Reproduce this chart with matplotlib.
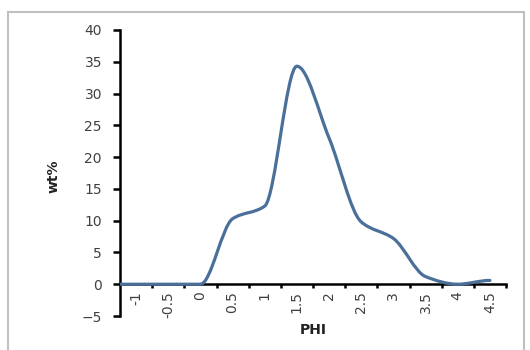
import matplotlib
matplotlib.use("Agg")
import matplotlib.pyplot as plt
from matplotlib.path import Path
from matplotlib.patches import PathPatch, Rectangle
import numpy as np

# grain size distribution
phi = [-1.25, -1, -0.5, 0, 0.5, 1, 1.5, 2, 2.5, 3, 3.5, 4, 4.5]
wt = [0, 0, 0, 0, 10.3, 12.3, 34.3, 23.0, 9.8, 7.2, 1.2, 0, 0.6]
tick_labels = ["-1", "-0.5", "0", "0.5", "1", "1.5", "2", "2.5", "3", "3.5", "4", "4.5"]
label_pos = [-1, -0.5, 0, 0.5, 1, 1.5, 2, 2.5, 3, 3.5, 4, 4.5]
yticks = [-5, 0, 5, 10, 15, 20, 25, 30, 35, 40]

def smooth_path(x, y):
    # smoothed line as cubic beziers, monotone (pchip-like) tangents so no dips
    x = np.asarray(x, float); y = np.asarray(y, float)
    h = np.diff(x); d = np.diff(y) / h
    m = np.zeros_like(y)
    for i in range(1, len(y) - 1):
        if d[i - 1] * d[i] > 0:
            w1 = 2 * h[i] + h[i - 1]; w2 = h[i] + 2 * h[i - 1]
            m[i] = (w1 + w2) / (w1 / d[i - 1] + w2 / d[i])
    verts = [(x[0], y[0])]
    codes = [Path.MOVETO]
    for i in range(len(x) - 1):
        verts += [(x[i] + h[i] / 3, y[i] + m[i] * h[i] / 3),
                  (x[i + 1] - h[i] / 3, y[i + 1] - m[i + 1] * h[i] / 3),
                  (x[i + 1], y[i + 1])]
        codes += [Path.CURVE4] * 3
    return Path(verts, codes)

fig = plt.figure(figsize=(5.3, 3.5), dpi=100)
fig.patches.append(Rectangle((8 / 530, -0.01), 516 / 530, 1 - 12 / 350 + 0.01,
                             transform=fig.transFigure, fill=False,
                             ec="#c0c0c0", lw=1.5))
ax = fig.add_axes([120 / 530, 34 / 350, 386 / 530, 286 / 350])

ax.add_patch(PathPatch(smooth_path(phi, wt), fill=False, ec="#4a7099", lw=2.3,
                       capstyle="round", joinstyle="round", zorder=3))

ax.set_xlim(-1.25, 4.75)
ax.set_ylim(-5, 40)
for s in ["top", "right"]:
    ax.spines[s].set_visible(False)
ax.spines["bottom"].set_position(("data", 0))
ax.spines["left"].set_linewidth(1.8)
ax.spines["bottom"].set_linewidth(1.8)

ax.set_yticks(yticks)
ax.tick_params(axis="y", direction="out", length=5, width=1.8, pad=8,
               labelsize=10, labelcolor="#404040")

ax.set_xticks(np.arange(-0.75, 4.8, 0.5))
ax.set_xticklabels([])
ax.set_xticks(label_pos, minor=True)
ax.set_xticklabels(tick_labels, minor=True, rotation=90)
ax.tick_params(axis="x", which="major", direction="out", length=3, width=1.8)
ax.tick_params(axis="x", which="minor", length=0, pad=5, labelsize=10,
               labelcolor="#404040")

ax.set_xlabel("PHI", fontsize=10, fontweight="bold", color="#222222")
ax.xaxis.set_label_coords(0.5, -0.025)
ax.set_ylabel("wt%", fontsize=10, fontweight="bold", color="#222222")
ax.yaxis.set_label_coords(-0.155, 0.49)

fig.savefig("out.png", dpi=100)
